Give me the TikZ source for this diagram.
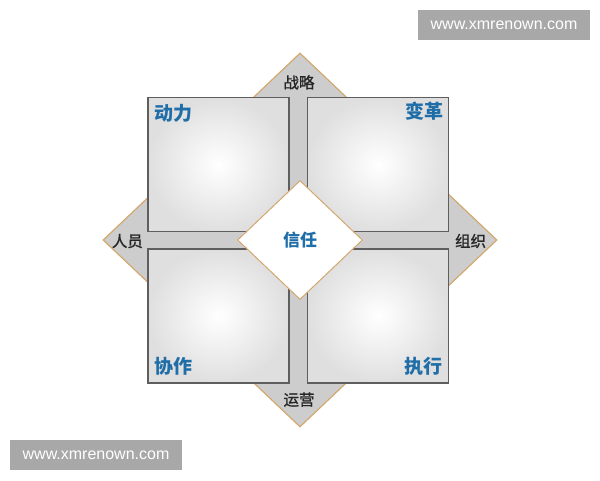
\documentclass[tikz,border=0pt]{standalone}
\usepackage{fontspec}
\usepackage{tikz}
\usepackage{xcolor}
\usetikzlibrary{shapes.geometric,positioning}
\setmainfont{Liberation Sans}
\newfontfamily\cjk{Noto Sans CJK SC}
\newfontfamily\cjkmid{Noto Sans CJK SC}[FakeBold=1.2]
\definecolor{framefill}{HTML}{CDCDCD}
\definecolor{frametan}{HTML}{D3A86F}
\definecolor{quadedge}{HTML}{5E5E5E}
\definecolor{quadshade}{HTML}{DFDFDF}
\definecolor{quadblue}{HTML}{1F6EA8}
\definecolor{markgray}{HTML}{A8A8A8}
\tikzset{
    frame-diamond/.style = {draw=frametan, fill=framefill, line width=1.2pt, diamond, inner sep=0pt, minimum width=394pt, minimum height=374pt},
    quad-box/.style = {draw=quadedge, line width=1.2pt, rectangle, inner sep=0pt, minimum width=141pt, minimum height=134pt, inner color=white, outer color=quadshade},
    trust-diamond/.style = {draw=frametan, fill=white, line width=1pt, diamond, inner sep=0pt, minimum width=125pt, minimum height=119pt},
    quad-label/.style = {text=quadblue, font=\cjk\bfseries\fontsize{19}{19}\selectfont, inner sep=0pt},
    side-label/.style = {text=black!85, font=\cjkmid\fontsize{15.5}{15.5}\selectfont, inner sep=0pt},
    mark-box/.style = {fill=markgray, text=white, font=\fontsize{16}{16}\selectfont, minimum width=172pt, minimum height=30pt, inner sep=0pt},
}

\begin{document}
\begin{tikzpicture}[x=1pt, y=-1pt]
\useasboundingbox (0,0) rectangle (600,480);
\node [frame-diamond] (frame) at (300,240) {};
\node [quad-box] (tl) at (218.5,164.7) {};
\node [quad-box] (tr) at (378.3,164.7) {};
\node [quad-box] (bl) at (218.5,316) {};
\node [quad-box] (br) at (378.3,316) {};
\node [trust-diamond] (trust) at (300,240) {};
% quadrant titles
\node [quad-label] (motive) at ([shift={(26,16.5)}]tl.north west) {动力};
\node [quad-label] (change) at ([shift={(-24.5,14.5)}]tr.north east) {变革};
\node [quad-label] (collab) at ([shift={(26,-17.5)}]bl.south west) {协作};
\node [quad-label] (execute) at ([shift={(-25.5,-17.5)}]br.south east) {执行};
\node [quad-label, font=\cjk\bfseries\fontsize{17}{17}\selectfont] (trust-text) at (trust.center) {信任};
% edge labels
\node [side-label] (strategy) at ([shift={(-1,30)}]frame.north) {战略};
\node [side-label] (operate) at ([shift={(-1,-28)}]frame.south) {运营};
\node [side-label] (people) at ([shift={(25,1)}]frame.west) {人员};
\node [side-label] (org) at ([shift={(-27,1)}]frame.east) {组织};
% watermarks
\node [mark-box] (mark-top) at (504,25) {www.xmrenown.com};
\node [mark-box] (mark-bottom) at (96,455) {www.xmrenown.com};
\end{tikzpicture}
\end{document}
